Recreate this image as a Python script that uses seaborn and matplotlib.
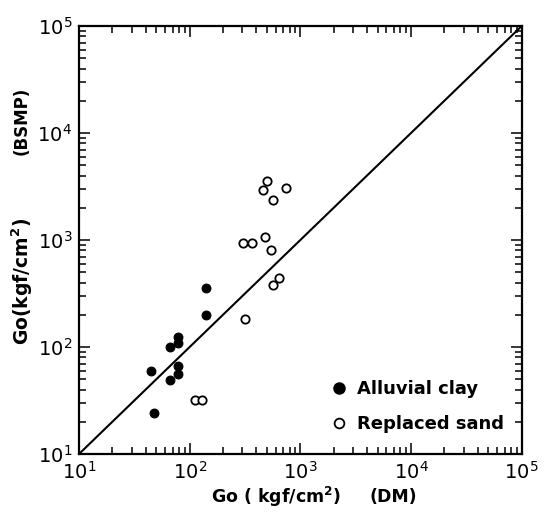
import numpy as np
import pandas as pd
import matplotlib
matplotlib.use("Agg")
import matplotlib.pyplot as plt
import seaborn as sns
from matplotlib.ticker import LogLocator, NullFormatter, FixedLocator, FixedFormatter
from matplotlib.lines import Line2D

# ---- data ----
clay_dm = [45, 48, 67, 67, 79, 79, 79, 79, 141, 141]
clay_bsmp = [60, 24, 100, 49, 123, 110, 67, 56, 357, 197]

sand_dm = [112, 130, 315, 302, 365, 480, 546, 570, 635, 462, 504, 562, 739]
sand_bsmp = [32, 32, 183, 937, 937, 1067, 812, 376, 437, 2942, 3575, 2372, 3073]

line_x = [10, 1e5]
line_y = [10, 1e5]

tick_vals = [10, 100, 1000, 10000, 100000]
tick_labels = ["$10^{1}$", "$10^{2}$", "$10^{3}$", "$10^{4}$", "$10^{5}$"]

series_names = ["Alluvial clay", "Replaced sand"]

clay = pd.DataFrame({"dm": clay_dm, "bsmp": clay_bsmp})
sand = pd.DataFrame({"dm": sand_dm, "bsmp": sand_bsmp})
ref = pd.DataFrame({"x": line_x, "y": line_y})

sns.set_style("ticks")
plt.rcParams["font.family"] = ["DejaVu Sans"]
plt.rcParams["text.color"] = "black"
plt.rcParams["xtick.color"] = "black"
plt.rcParams["ytick.color"] = "black"

fig = plt.figure(figsize=(5.44, 5.12), dpi=100)
ax = fig.add_axes([79 / 544, (512 - 454) / 512, 442.7 / 544, 428 / 512])

sns.lineplot(data=ref, x="x", y="y", ax=ax, color="black", lw=1.5, zorder=2)
sns.scatterplot(data=clay, x="dm", y="bsmp", ax=ax, marker="o", s=40,
                color="black", edgecolor="black", linewidth=0.8, zorder=3)
sns.scatterplot(data=sand, x="dm", y="bsmp", ax=ax, marker="o", s=36,
                facecolor="white", edgecolor="black", linewidth=1.3, zorder=3)

ax.set_xscale("log")
ax.set_yscale("log")
ax.set_xlim(10, 1e5)
ax.set_ylim(10, 1e5)

for axis in (ax.xaxis, ax.yaxis):
    axis.set_major_locator(FixedLocator(tick_vals))
    axis.set_major_formatter(FixedFormatter(tick_labels))
    axis.set_minor_locator(LogLocator(base=10, subs=np.arange(2, 10), numticks=20))
    axis.set_minor_formatter(NullFormatter())

ax.tick_params(which="both", direction="in", top=True, right=True,
               color="black", labelcolor="black", width=1.1)
ax.tick_params(which="major", length=8, labelsize=14, pad=5)
ax.tick_params(which="minor", length=5)

for sp in ax.spines.values():
    sp.set_visible(True)
    sp.set_linewidth(1.6)
    sp.set_color("black")

ax.set_xlabel("")
ax.set_ylabel("")

# x-axis title (two parts, as spaced in the reference)
fig.text(276 / 544, 1 - 497 / 512, "Go ( kgf/cm$^\\mathbf{2}$)",
         ha="center", va="center", fontsize=12.5, fontweight="bold")
fig.text(393 / 544, 1 - 497 / 512, "(DM)",
         ha="center", va="center", fontsize=12.5, fontweight="bold")

# y-axis title (two parts)
fig.text(22 / 544, 1 - 281 / 512, "Go(kgf/cm$^\\mathbf{2}$)",
         ha="center", va="center", rotation=90, fontsize=13.5, fontweight="bold")
fig.text(22 / 544, 1 - 121 / 512, "(BSMP)",
         ha="center", va="center", rotation=90, fontsize=12, fontweight="bold")

handles = [
    Line2D([], [], marker="o", ls="", markersize=8, markerfacecolor="black",
           markeredgecolor="black"),
    Line2D([], [], marker="o", ls="", markersize=7, markerfacecolor="white",
           markeredgecolor="black", markeredgewidth=1.3),
]
leg = ax.legend(handles, series_names, loc="upper left",
                bbox_to_anchor=(321 / 544, 1 - 371 / 512),
                bbox_transform=fig.transFigure, frameon=False, borderpad=0,
                handlelength=1.0, handletextpad=0.5, labelspacing=0.95,
                prop={"size": 13, "weight": "bold"})

fig.savefig("out.png", dpi=100, facecolor="white")
